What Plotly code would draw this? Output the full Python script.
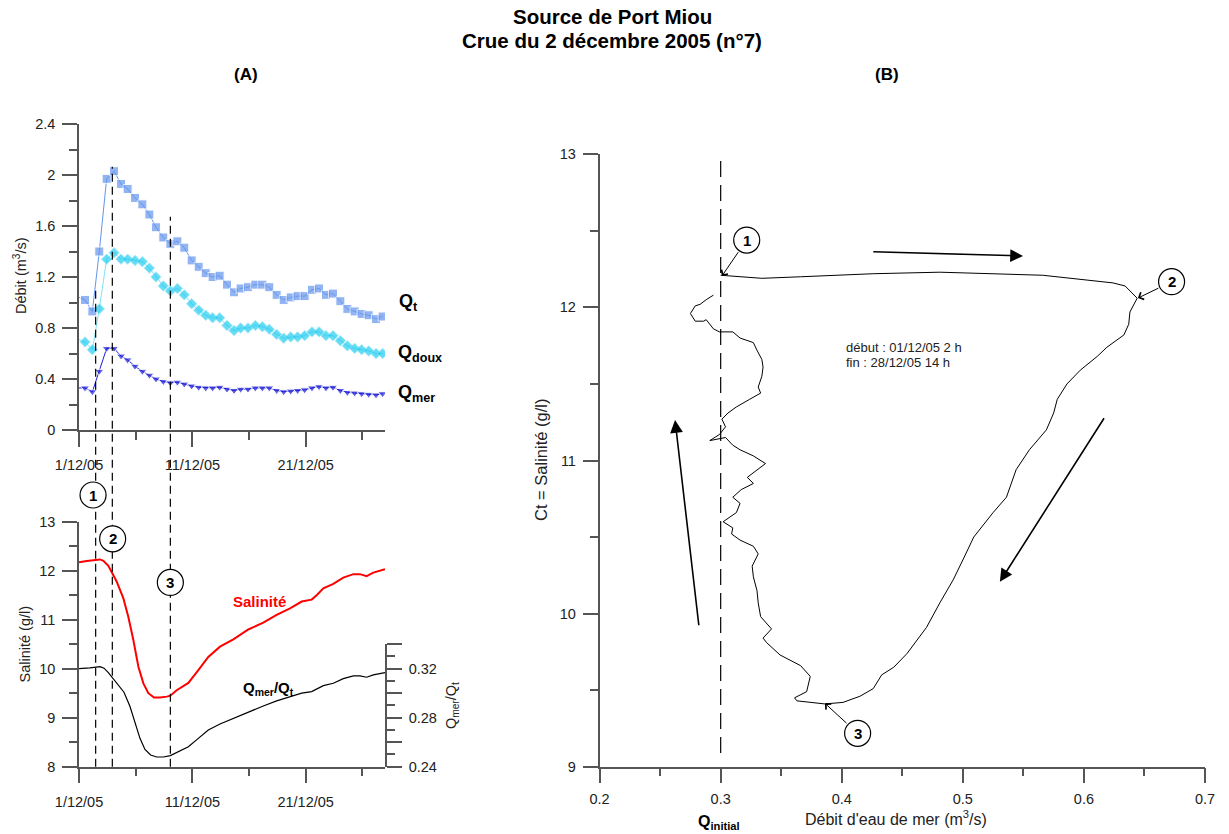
import plotly.graph_objects as go

W, H = 1229, 834
FONT = "Liberation Sans, Arial, sans-serif"

# ---------------- Panel (A) top : débits ----------------
jours = [0, 0.53, 1.18, 1.79, 2.44, 3.09, 3.71, 4.29, 4.94, 5.59, 6.21, 6.79, 7.44, 8.06,
         8.68, 9.29, 9.94, 10.56, 11.18, 11.79, 12.41, 13.06, 13.68, 14.26, 14.91, 15.56,
         16.18, 16.79, 17.44, 18.06, 18.68, 19.29, 19.91, 20.56, 21.18, 21.79, 22.41, 23.06,
         23.68, 24.32, 24.94, 25.56, 26.21, 26.79]
q_total = [1.04, 1.02, 0.93, 1.40, 1.97, 2.03, 1.93, 1.89, 1.82, 1.77, 1.69, 1.59, 1.51, 1.46,
           1.48, 1.43, 1.33, 1.28, 1.23, 1.20, 1.21, 1.14, 1.08, 1.11, 1.12, 1.14, 1.14, 1.12,
           1.06, 1.02, 1.04, 1.05, 1.05, 1.10, 1.11, 1.06, 1.07, 1.01, 0.95, 0.93, 0.91, 0.90,
           0.87, 0.89]
q_doux = [0.71, 0.69, 0.63, 0.95, 1.34, 1.39, 1.34, 1.34, 1.33, 1.32, 1.27, 1.20, 1.13, 1.09,
          1.11, 1.06, 0.99, 0.94, 0.90, 0.88, 0.88, 0.82, 0.78, 0.80, 0.80, 0.82, 0.81, 0.79,
          0.75, 0.72, 0.73, 0.73, 0.74, 0.77, 0.77, 0.74, 0.74, 0.70, 0.66, 0.64, 0.63, 0.62,
          0.60, 0.60]
q_mer = [0.33, 0.33, 0.30, 0.46, 0.64, 0.64, 0.58, 0.55, 0.50, 0.46, 0.43, 0.40, 0.38, 0.37,
         0.375, 0.36, 0.345, 0.335, 0.33, 0.33, 0.335, 0.32, 0.31, 0.32, 0.32, 0.33, 0.33, 0.33,
         0.31, 0.30, 0.305, 0.31, 0.315, 0.33, 0.34, 0.33, 0.335, 0.31, 0.295, 0.29, 0.285,
         0.28, 0.275, 0.285]

# ---------------- Panel (A) bottom : salinité et Qmer/Qt ----------------
jours_sal = [0, 0.68, 1.85, 2.15, 2.59, 2.94, 3.32, 3.91, 4.35, 4.79, 5.24, 5.68, 6.12, 6.62,
             7.15, 7.74, 8.06, 8.62, 9.65, 10.53, 11.41, 12.44, 13.62, 14.94, 16.26, 17.44,
             18.62, 19.65, 20.53, 20.97, 21.56, 22.44, 23.32, 24.21, 24.79, 25.38, 25.97, 27.0]
salinite = [12.17, 12.20, 12.23, 12.20, 12.10, 11.95, 11.78, 11.44, 11.06, 10.59, 10.04, 9.70,
            9.50, 9.41, 9.41, 9.43, 9.45, 9.56, 9.71, 9.97, 10.24, 10.45, 10.60, 10.80, 10.94,
            11.10, 11.23, 11.37, 11.41, 11.50, 11.64, 11.73, 11.86, 11.93, 11.93, 11.89, 11.96,
            12.03]
jours_ratio = [0, 0.97, 1.85, 2.21, 2.59, 3.03, 3.47, 3.97, 4.50, 4.94, 5.38, 5.82, 6.32, 6.85,
               7.44, 8.06, 8.62, 9.65, 10.53, 11.41, 12.44, 13.62, 14.94, 16.26, 17.44, 18.62,
               19.65, 20.53, 20.97, 21.56, 22.44, 23.32, 24.21, 24.79, 25.38, 25.97, 27.0]
ratio_mer_total = [0.320, 0.3205, 0.3216, 0.3203, 0.3167, 0.3113, 0.3067, 0.3007, 0.2890,
                   0.2754, 0.2631, 0.2541, 0.2495, 0.2479, 0.2479, 0.2490, 0.2517, 0.2563,
                   0.2631, 0.2699, 0.2748, 0.2795, 0.2841, 0.2895, 0.2936, 0.2971, 0.2999,
                   0.3012, 0.3031, 0.3061, 0.3080, 0.3118, 0.3140, 0.3140, 0.3129, 0.3148,
                   0.3167]

evenements_jours = [1.47, 2.94, 8.06]
date_ticks = [0, 10, 20]
date_labels = ["1/12/05", "11/12/05", "21/12/05"]
ratio_ticks = [0.24, 0.26, 0.28, 0.30, 0.32, 0.34]
ratio_labels = ["0.24", "", "0.28", "", "0.32", ""]

# ---------------- Panel (B) : hystérésis ----------------
debit_mer_b = [0.300, 0.334, 0.366, 0.399, 0.426, 0.481, 0.520, 0.566, 0.624, 0.634, 0.644,
               0.638, 0.637, 0.633, 0.619, 0.611, 0.597, 0.586, 0.578, 0.575, 0.569, 0.555,
               0.544, 0.536, 0.525, 0.509, 0.500, 0.492, 0.481, 0.470, 0.454, 0.443, 0.433,
               0.426, 0.415, 0.401, 0.386,
               0.363, 0.361, 0.371, 0.374, 0.366, 0.349, 0.338, 0.335, 0.342, 0.333, 0.331,
               0.330, 0.327, 0.326, 0.331, 0.327, 0.316, 0.309, 0.310, 0.302, 0.313, 0.316,
               0.310, 0.317, 0.327, 0.322, 0.337, 0.327, 0.316, 0.310, 0.304, 0.291, 0.299,
               0.304, 0.301, 0.306, 0.313, 0.324, 0.333, 0.331, 0.334, 0.335, 0.334, 0.330,
               0.327, 0.316, 0.310, 0.299, 0.294, 0.288, 0.286, 0.279, 0.275, 0.279, 0.283,
               0.288, 0.294]
salinite_b = [12.21, 12.19, 12.20, 12.21, 12.22, 12.23, 12.22, 12.21, 12.16, 12.14, 12.06,
              11.97, 11.89, 11.82, 11.74, 11.68, 11.59, 11.50, 11.40, 11.31, 11.20, 11.07,
              10.94, 10.76, 10.66, 10.50, 10.35, 10.22, 10.07, 9.91, 9.74, 9.65, 9.60, 9.51,
              9.46, 9.42, 9.41,
              9.43, 9.45, 9.49, 9.59, 9.66, 9.73, 9.81, 9.84, 9.90, 9.98, 10.07, 10.15, 10.24,
              10.31, 10.39, 10.44, 10.48, 10.52, 10.56, 10.60, 10.66, 10.72, 10.76, 10.81,
              10.85, 10.89, 10.98, 11.03, 11.07, 11.10, 11.15, 11.13, 11.17, 11.22, 11.27,
              11.31, 11.35, 11.40, 11.44, 11.48, 11.55, 11.61, 11.66, 11.72, 11.77, 11.80,
              11.84, 11.84, 11.86, 11.92, 11.91, 11.91, 11.96, 12.01, 12.02, 12.05, 12.08]
q_initial = 0.3
points_b = [(0.301, 12.205), (0.6446, 12.061), (0.3861, 9.414)]   # points 1, 2, 3
# direction arrows (tail q, tail s, head q, head s)
fleches_b = [(0.4248, 12.364, 0.5497, 12.336),
             (0.6174, 11.286, 0.5306, 10.208),
             (0.2821, 9.914, 0.2623, 11.265)]

C_QT = "#6495ED"
C_QDOUX = "#22CCF0"
C_QMER = "#1E1ED6"
AXC = "#555555"
TXT = "#222222"


def fx(px):
    return px / W


def fy(py):
    return 1 - py / H


fig = go.Figure()

fig.add_trace(go.Scatter(x=jours, y=q_total, mode="lines+markers", xaxis="x", yaxis="y",
                         line=dict(color=C_QT, width=1),
                         marker=dict(symbol="square", size=[0] + [9] * (len(jours) - 1), color=C_QT)))
fig.add_trace(go.Scatter(x=jours, y=q_doux, mode="lines+markers", xaxis="x", yaxis="y",
                         line=dict(color="#7FE3F7", width=1),
                         marker=dict(symbol="diamond", size=[0] + [8] * (len(jours) - 1), color=C_QDOUX)))
fig.add_trace(go.Scatter(x=jours, y=q_mer, mode="lines+markers", xaxis="x", yaxis="y",
                         line=dict(color=C_QMER, width=1),
                         marker=dict(symbol="triangle-down", size=[0] + [8] * (len(jours) - 1), color=C_QMER)))
fig.add_trace(go.Scatter(x=jours_sal, y=salinite, mode="lines", xaxis="x2", yaxis="y2",
                         line=dict(color="#FF0000", width=2)))
fig.add_trace(go.Scatter(x=jours_ratio, y=ratio_mer_total, mode="lines", xaxis="x2", yaxis="y4",
                         line=dict(color="black", width=1.2)))
fig.add_trace(go.Scatter(x=debit_mer_b, y=salinite_b, mode="lines", xaxis="x3", yaxis="y3",
                         line=dict(color="black", width=1)))

common = dict(showline=True, linecolor=AXC, linewidth=1.5, ticks="outside", tickcolor=AXC,
              tickwidth=1.5, ticklen=15, showgrid=False, zeroline=False, automargin=False,
              tickfont=dict(size=14.5, color=TXT, family=FONT))


def minor(dtick, tick0):
    return dict(ticks="outside", ticklen=8, tickcolor=AXC, tickwidth=1.5, dtick=dtick,
                tick0=tick0, showgrid=False)


xa_dom = [fx(79), fx(385)]
fig.update_layout(
    template="none",
    width=W, height=H, margin=dict(l=0, r=0, t=0, b=0, pad=0),
    paper_bgcolor="white", plot_bgcolor="rgba(0,0,0,0)", showlegend=False,
    font=dict(family=FONT, color=TXT),
    xaxis=dict(common, domain=xa_dom, range=[0, 27], anchor="y", tickmode="array",
               tickvals=date_ticks, ticktext=date_labels, minor=minor(5, 0), ticklabelstandoff=6),
    yaxis=dict(common, domain=[fy(430), fy(124)], range=[0, 2.4], anchor="x", dtick=0.4,
               tick0=0, minor=minor(0.2, 0), ticklabelstandoff=4),
    xaxis2=dict(common, domain=xa_dom, range=[0, 27], anchor="y2", tickmode="array",
                tickvals=date_ticks, ticktext=date_labels, minor=minor(5, 0), ticklabelstandoff=6),
    yaxis2=dict(common, domain=[fy(766.7), fy(521.7)], range=[8, 13], anchor="x2", dtick=1,
                minor=minor(0.5, 8), ticklabelstandoff=4),
    yaxis4=dict(common, domain=[fy(766.7), fy(644)], range=[0.24, 0.34], anchor="x2",
                side="right", tickmode="array", tickvals=ratio_ticks, ticktext=ratio_labels,
                minor=minor(0.01, 0.24), ticklabelstandoff=4),
    xaxis3=dict(common, domain=[fx(599.6), fx(1205)], range=[0.2, 0.7], anchor="y3",
                dtick=0.1, tick0=0.2, minor=minor(0.05, 0.2), ticklabelstandoff=3),
    yaxis3=dict(common, domain=[fy(766.7), fy(154.3)], range=[9, 13], anchor="x3", dtick=1,
                minor=minor(0.5, 9), ticklabelstandoff=4),
)

shapes = []
# dashed event lines across both left panels
tops_px = [290, 166.7, 216.7]
for d, tp in zip(evenements_jours, tops_px):
    shapes.append(dict(type="line", xref="x", yref="paper", x0=d, x1=d, y0=fy(766.7), y1=fy(tp),
                       line=dict(color="black", width=1.2, dash="8px,5px"), layer="above"))
# Q initial dashed line
shapes.append(dict(type="line", xref="x3", yref="y3", x0=q_initial, x1=q_initial, y0=9.09, y1=13.05,
                   line=dict(color="black", width=1.2, dash="16px,8px"), layer="above"))

annotations = []


def circle(xref, yref, x, y, label):
    shapes.append(dict(type="circle", xref=xref, yref=yref, xsizemode="pixel", ysizemode="pixel",
                       xanchor=x, yanchor=y, x0=-13, x1=13, y0=-13, y1=13,
                       fillcolor="white", line=dict(color="black", width=1.2), layer="above"))
    annotations.append(dict(xref=xref, yref=yref, x=x, y=y, text="<b>%s</b>" % label,
                            showarrow=False, font=dict(size=15, color="black")))


# left-panel circles
circle("x", "paper", 1.24, fy(495), "1")
circle("x2", "y2", 2.97, 12.65, "2")
circle("x2", "y2", 8.06, 11.76, "3")
# right-panel circles
circle("x3", "y3", 0.3215, 12.44, "1")
circle("x3", "y3", 0.6724, 12.168, "2")
circle("x3", "y3", 0.4131, 9.218, "3")

# pointer arrows from circles to points
offsets = [(17.4, -25.3), (22, -10.6), (23.1, 21.2)]
for (q, s), (ox, oy) in zip(points_b, offsets):
    annotations.append(dict(xref="x3", yref="y3", x=q, y=s, ax=ox, ay=oy, text="",
                            showarrow=True, arrowhead=4, arrowsize=1.5, arrowwidth=1,
                            arrowcolor="black"))
# big direction arrows
for tq, ts, hq, hs in fleches_b:
    annotations.append(dict(xref="x3", yref="y3", x=hq, y=hs, axref="x3", ayref="y3", ax=tq,
                            ay=ts, text="", showarrow=True, arrowhead=2, arrowsize=1.6,
                            arrowwidth=1.6, arrowcolor="black"))


def txt(x, y, text, size, bold=False, color=TXT, angle=0, xanchor="center"):
    annotations.append(dict(xref="paper", yref="paper", x=x, y=y, text=("<b>%s</b>" % text) if bold else text,
                            showarrow=False, textangle=angle, xanchor=xanchor, yanchor="middle",
                            font=dict(size=size, color=color, family=FONT)))


txt(fx(612), fy(17), "Source de Port Miou", 20.5, bold=True, color="black")
txt(fx(612), fy(40), "Crue du 2 décembre 2005 (n°7)", 20.5, bold=True, color="black")
txt(fx(246), fy(74), "(A)", 17, bold=True, color="black")
txt(fx(887), fy(74), "(B)", 17, bold=True, color="black")

txt(fx(20), fy(276), "Débit (m<sup>3</sup>/s)", 14.5, angle=-90)
txt(fx(24.5), fy(644), "Salinité (g/l)", 14.5, angle=-90)
txt(fx(452), fy(706), "Q<sub>mer</sub>/Q<sub>t</sub>", 14.5, angle=-90)
txt(fx(541), fy(460), "Ct = Salinité (g/l)", 16.5, angle=-90)
txt(fx(896), fy(818), "Débit d'eau de mer (m<sup>3</sup>/s)", 16)
txt(fx(719), fy(822), "Q<sub>initial</sub>", 16, bold=True, color="black")

txt(fx(397), fy(302), "Q<sub>t</sub>", 18, bold=True, color="black", xanchor="left")
txt(fx(396), fy(353), "Q<sub>doux</sub>", 18, bold=True, color="black", xanchor="left")
txt(fx(396), fy(394), "Q<sub>mer</sub>", 18, bold=True, color="black", xanchor="left")
txt(fx(259), fy(601), "Salinité", 15, bold=True, color="#FF0000")
txt(fx(268), fy(688), "Q<sub>mer</sub>/Q<sub>t</sub>", 15, bold=True, color="black")

txt(fx(844), fy(347), "début : 01/12/05 2 h", 13, xanchor="left")
txt(fx(844), fy(362), "fin : 28/12/05 14 h", 13, xanchor="left")

fig.update_layout(shapes=shapes, annotations=annotations)
fig.write_html("out.html", config={"displayModeBar": False},
               post_script="document.body.style.margin='0';document.body.style.padding='0';")
